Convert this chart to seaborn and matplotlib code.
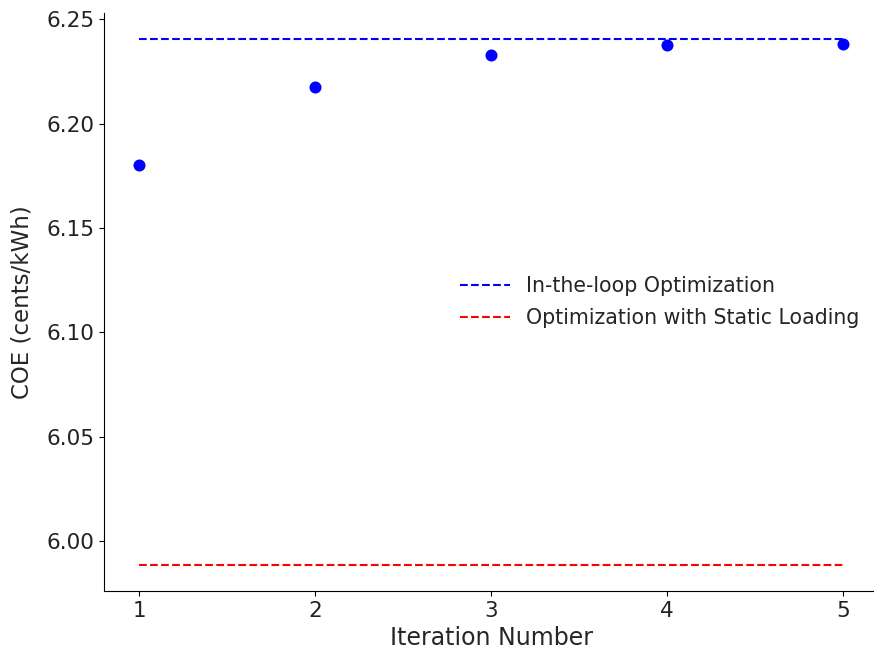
import matplotlib
matplotlib.use("Agg")
import matplotlib.pyplot as plt
import seaborn as sns
import pandas as pd

iterations = [1, 2, 3, 4, 5]
coe_in_loop = [6.180, 6.2175, 6.2327, 6.2375, 6.2383]
in_loop_optimum = 6.2404
static_loading_optimum = 5.9888

sns.set_style("ticks")
plt.rcParams["font.family"] = ["DejaVu Sans"]

fig = plt.figure(figsize=(8.74, 6.56), dpi=100)
ax = fig.add_axes([104 / 874, 65 / 656, 774 / 874, 578 / 656])

df_pts = pd.DataFrame({"Iteration": iterations, "COE": coe_in_loop})
sns.scatterplot(data=df_pts, x="Iteration", y="COE", color="blue", s=75,
                edgecolor="blue", linewidth=0, ax=ax, zorder=3)

df_lines = pd.DataFrame({
    "Iteration": iterations * 2,
    "COE": [in_loop_optimum] * 5 + [static_loading_optimum] * 5,
    "Case": ["In-the-loop Optimization"] * 5 + ["Optimization with Static Loading"] * 5,
})
sns.lineplot(data=df_lines, x="Iteration", y="COE", hue="Case",
             palette=["blue", "red"], linestyle="--", linewidth=1.5, ax=ax)

ax.set_xticks(iterations)
ax.set_yticks([6.00, 6.05, 6.10, 6.15, 6.20, 6.25])
ax.set_yticklabels(["6.00", "6.05", "6.10", "6.15", "6.20", "6.25"])
ax.tick_params(axis="both", labelsize=15.5, colors="black", labelcolor="#222222")
ax.set_xlabel("Iteration Number", fontsize=17)
ax.set_ylabel("COE (cents/kWh)", fontsize=16.5, labelpad=9)
ax.legend(loc="center right", bbox_to_anchor=(1.0, 0.50), frameon=False,
          fontsize=14.8, title=None, labelspacing=0.6, handlelength=2.4)
for side in ("left", "bottom"):
    ax.spines[side].set_color("black")
sns.despine(ax=ax)

fig.savefig("out.png", dpi=100)
